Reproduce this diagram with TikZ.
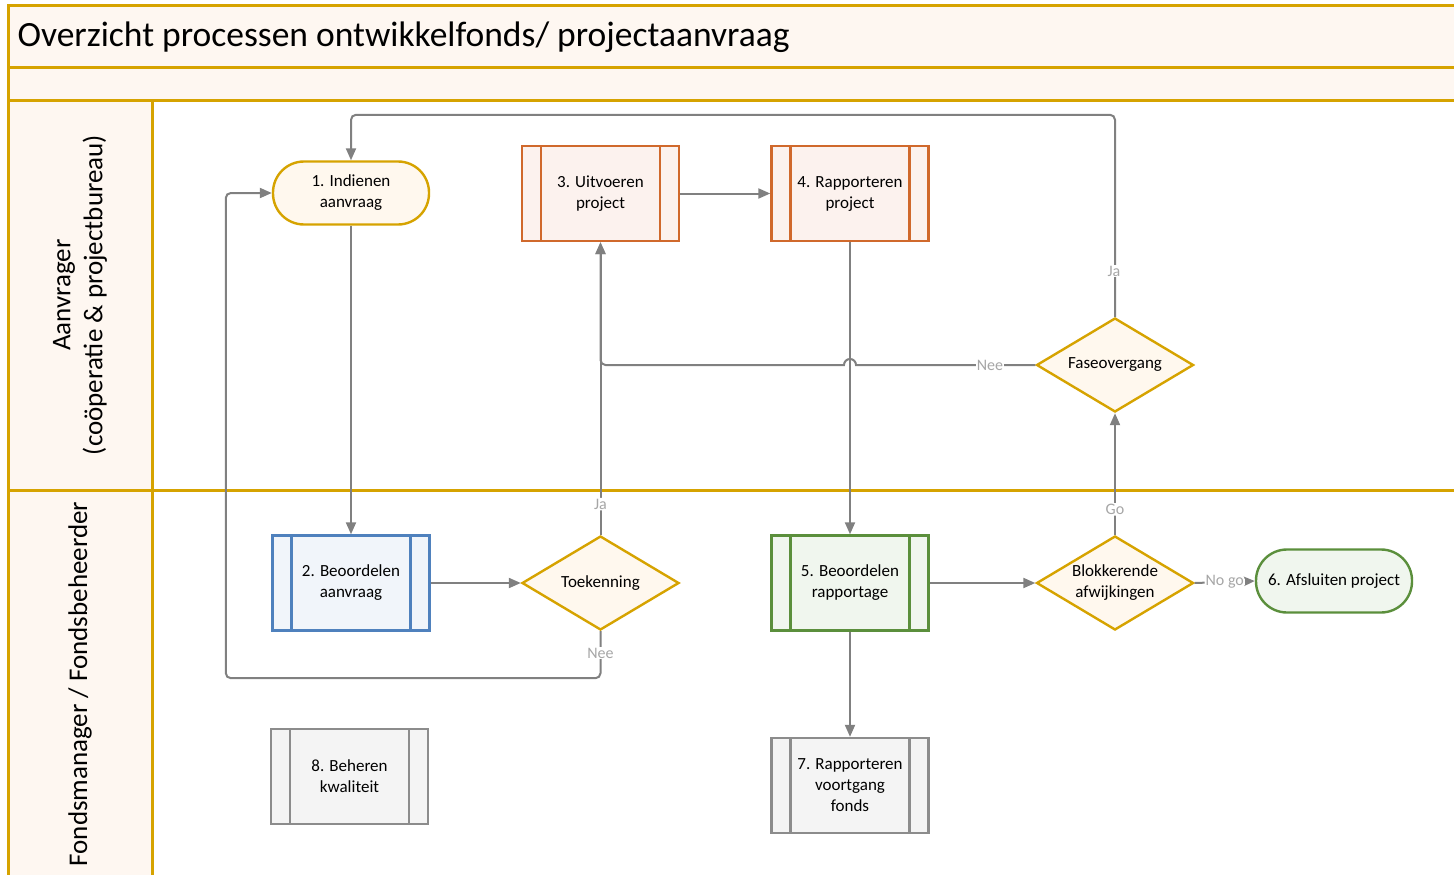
\documentclass[tikz,border=0pt]{standalone}
\usepackage{fontspec}
\setmainfont{Carlito}
\usetikzlibrary{shapes.geometric,arrows.meta}

\definecolor{lanegold}{HTML}{D6A300}
\definecolor{lanefill}{HTML}{FEF7F1}
\definecolor{decfill}{HTML}{FFF8EE}
\definecolor{orangeline}{HTML}{D0692C}
\definecolor{orangefill}{HTML}{FCF2EE}
\definecolor{blueline}{HTML}{4F81BD}
\definecolor{bluefill}{HTML}{F1F5FA}
\definecolor{greenline}{HTML}{5B8F3C}
\definecolor{greenfill}{HTML}{F0F6EE}
\definecolor{greyline}{HTML}{8C8C8C}
\definecolor{greyfill}{HTML}{F4F4F4}
\definecolor{flowgrey}{HTML}{808080}
\definecolor{labelgrey}{HTML}{A6A6A6}

\begin{document}
\begin{tikzpicture}[x=1pt, y=-1pt,
    nodetext/.style ={font=\fontsize{17}{21}\selectfont, align=center},
    terminal/.style 2 args ={rectangle, rounded corners=31pt, draw=#1, fill=#2, line width=2.4pt,
        minimum width=156pt, minimum height=63pt, inner sep=0pt, nodetext},
    subprocess/.style 2 args ={rectangle, draw=#1, fill=#2, line width=2.4pt,
        minimum width=157pt, minimum height=95pt, inner sep=0pt, nodetext,
        path picture={\draw[#1, line width=2.4pt]
            ([xshift=19pt]path picture bounding box.north west) -- ([xshift=19pt]path picture bounding box.south west)
            ([xshift=-19pt]path picture bounding box.north east) -- ([xshift=-19pt]path picture bounding box.south east);}},
    decision/.style ={diamond, aspect=1.67, draw=lanegold, fill=decfill, line width=2.4pt,
        minimum width=157pt, minimum height=94pt, inner sep=0pt, nodetext},
    flow/.style ={draw=flowgrey, line width=2pt, rounded corners=5pt, -{Triangle[length=12pt,width=10pt]}},
    flowlabel/.style ={text=labelgrey, fill=white, inner sep=1pt, font=\fontsize{16}{18}\selectfont},
    lane/.style ={draw=lanegold, line width=3pt}]
   \clip (0,0) rectangle (1454,875);
   \fill[white] (0,0) rectangle (1454,875);

   % swimlanes
   \fill[lanefill] (8,6) rectangle (1470,100);
   \fill[lanefill] (8,100) rectangle (152,890);
   \draw[lane] (1470,6) -- (8,6) -- (8,890);
   \draw[lane] (8,68) -- (1470,68);
   \draw[lane] (8,100) -- (1470,100);
   \draw[lane] (8,490) -- (1470,490);
   \draw[lane] (152,100) -- (152,890);
   \node[anchor=west, font=\fontsize{35.5}{40}\selectfont] (title) at (14,37) {Overzicht processen ontwikkelfonds/ projectaanvraag};
   \node[rotate=90, align=center, font=\fontsize{27}{32}\selectfont] (lane1) at (80,295) {Aanvrager\\(coöperatie \& projectbureau)};
   \node[rotate=90, align=center, font=\fontsize{27}{32}\selectfont] (lane2) at (80,684) {Fondsmanager / Fondsbeheerder};

   % steps
   \node[terminal={lanegold}{decfill}] (P1) at (351,193) {1. Indienen\\aanvraag};
   \node[subprocess={blueline}{bluefill}] (P2) at (351,583) {2. Beoordelen\\aanvraag};
   \node[subprocess={orangeline}{orangefill}] (P3) at (600.5,193.5) {3. Uitvoeren\\project};
   \node[subprocess={orangeline}{orangefill}] (P4) at (850,193.5) {4. Rapporteren\\project};
   \node[subprocess={greenline}{greenfill}] (P5) at (850,583) {5. Beoordelen\\rapportage};
   \node[terminal={greenline}{greenfill}] (P6) at (1334,581) {6. Afsluiten project};
   \node[subprocess={greyline}{greyfill}] (P7) at (850,785.5) {7. Rapporteren\\voortgang\\fonds};
   \node[subprocess={greyline}{greyfill}] (P8) at (349.5,776.5) {8. Beheren\\kwaliteit};

   \node[decision] (D1) at (600.5,583) {Toekenning};
   \node[decision] (D2) at (1115,365) {Faseovergang};
   \node[decision] (D3) at (1115,583) {Blokkerende\\afwijkingen};

   % connectors
   \draw[flow] (P1) to (P2);
   \draw[flow] (P2) to (D1);
   \draw[flow] (D1) to node[flowlabel, pos=0.105] {Ja} (P3);
   \draw[flow] (D1.south) -- ++(0,47) -| ([xshift=-46pt]P1.west) -- (P1.west);
   \node[flowlabel] (nee1) at (600.5,653) {Nee};
   \draw[flow] (P3) to (P4);
   \draw[flow] (P4) to (P5);
   \draw[flow] (P5) to (D3);
   \draw[flow] (P5) to (P7);
   \draw[flow] (D3) to node[flowlabel, pos=0.21] {Go} (D2);
   \draw[flow] (D3.east) to node[flowlabel, pos=0.5] {No go} (P6.west);
   \draw[flow] (D2.north) -- ++(0,-202) -| (P1.north);
   \node[flowlabel] (ja2) at (1114,271) {Ja};
   \draw[flow] (D2.west) [sharp corners] -- ([xshift=6pt]P4.south |- D2.west)
       arc[start angle=0, end angle=180, radius=6pt] [rounded corners=5pt] -| (P3.south);
   \node[flowlabel] (nee2) at (990,365) {Nee};
 \end{tikzpicture}
\end{document}
